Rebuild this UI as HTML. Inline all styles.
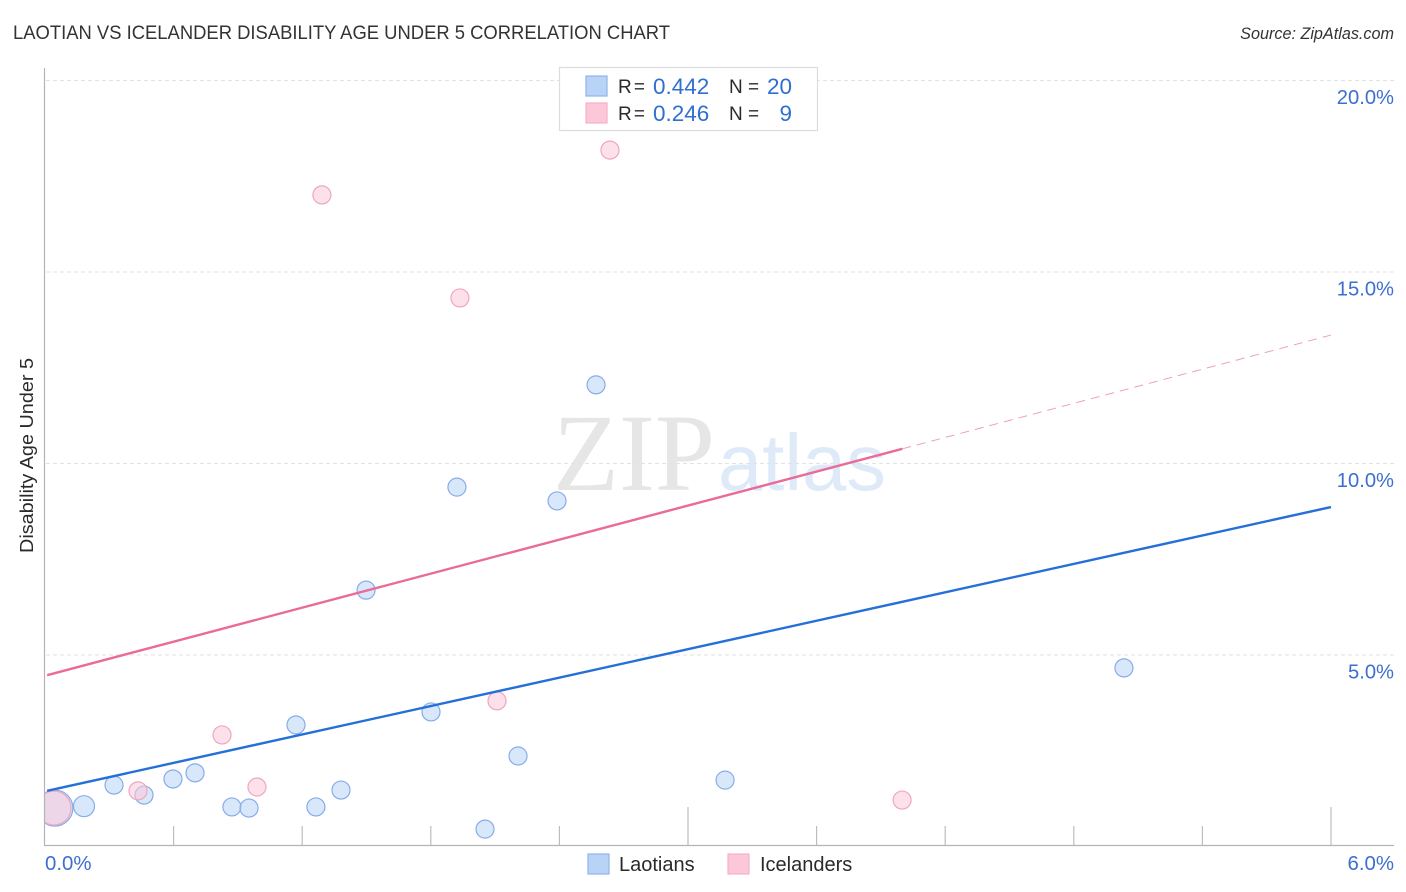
<!DOCTYPE html>
<html>
<head>
<meta charset="utf-8">
<title>Laotian vs Icelander Disability Age Under 5 Correlation Chart</title>
<style>
html,body{margin:0;padding:0;background:#fff;width:1406px;height:892px;overflow:hidden}
svg{display:block}
text{font-family:"Liberation Sans",sans-serif}
</style>
</head>
<body>
<svg id="chart" xmlns="http://www.w3.org/2000/svg" width="1406" height="892" viewBox="0 0 1406 892">
  <rect width="1406" height="892" fill="#fff"/>
  <text x="13" y="39" font-size="19.5" fill="#333" textLength="657" lengthAdjust="spacingAndGlyphs">LAOTIAN VS ICELANDER DISABILITY AGE UNDER 5 CORRELATION CHART</text>
  <text x="1394" y="39" font-size="16.2" font-style="italic" fill="#333" text-anchor="end">Source: ZipAtlas.com</text>
  <text x="553" y="490" font-size="110" fill="#e6e6e6" style="font-family:'Liberation Serif',serif" textLength="162" lengthAdjust="spacingAndGlyphs">ZIP</text>
  <text x="718" y="490" font-size="80" fill="#deeaf8" style="font-family:'Liberation Sans',sans-serif" textLength="168" lengthAdjust="spacingAndGlyphs">atlas</text>
  <g id="grid"></g>
  <g id="xticks"></g>
  <g id="marks"></g>
  <rect x="28" y="780" width="16.5" height="66" fill="#fff"/>
  <line x1="44.5" y1="68" x2="44.5" y2="846" stroke="#b4b4b4" stroke-width="1.2"/>
  <line x1="44" y1="845.5" x2="1394" y2="845.5" stroke="#b4b4b4" stroke-width="1.2"/>
  <g id="ylabels"></g>
  <text x="45" y="870" font-size="20.4" fill="#3d6fd0">0.0%</text>
  <text x="1394" y="870" font-size="20.4" fill="#3d6fd0" text-anchor="end">6.0%</text>
  <text transform="translate(33,553) rotate(-90)" font-size="18.5" fill="#2a2a2a" textLength="195" lengthAdjust="spacingAndGlyphs">Disability Age Under 5</text>

  <g>
    <rect x="559.5" y="67.5" width="258" height="63" fill="#fff" stroke="#dcdcdc" stroke-width="1.2"/>
    <rect x="586" y="76" width="21" height="20" fill="#b9d3f7" stroke="#8fb5ea" stroke-width="1.2"/>
    <rect x="586" y="103" width="21" height="20" fill="#fcc8d9" stroke="#f3b0c8" stroke-width="1.2"/>
    <text x="618" y="93" font-size="19" fill="#2a2a2a" textLength="27" lengthAdjust="spacing">R =</text>
    <text x="653" y="94" font-size="22.5" fill="#2f6fd0">0.442</text>
    <text x="729" y="93" font-size="19" fill="#2a2a2a">N =</text>
    <text x="792" y="94" font-size="22.5" fill="#2f6fd0" text-anchor="end">20</text>
    <text x="618" y="120" font-size="19" fill="#2a2a2a" textLength="27" lengthAdjust="spacing">R =</text>
    <text x="653" y="121" font-size="22.5" fill="#2f6fd0">0.246</text>
    <text x="729" y="120" font-size="19" fill="#2a2a2a">N =</text>
    <text x="792" y="121" font-size="22.5" fill="#2f6fd0" text-anchor="end">9</text>
  </g>

  <g>
    <rect x="588" y="854" width="21" height="20" fill="#b9d3f7" stroke="#8fb5ea" stroke-width="1.2"/>
    <text x="619" y="871" font-size="20" fill="#2a2a2a">Laotians</text>
    <rect x="728" y="854" width="21" height="20" fill="#fcc8d9" stroke="#f3b0c8" stroke-width="1.2"/>
    <text x="760" y="871" font-size="20" fill="#2a2a2a">Icelanders</text>
  </g>
</svg>
<script>
var yTickValues = [5, 10, 15, 20];
var yTickLabels = ['5.0%', '10.0%', '15.0%', '20.0%'];
var xTickValues = [0.6, 1.2, 1.8, 2.4, 3.0, 3.6, 4.2, 4.8, 5.4, 6.0];
var xMajorTicks = [3.0, 6.0];

var laotianX = [0.046, 0.182, 0.322, 0.462, 0.597, 0.70, 0.872, 0.952, 1.171, 1.264, 1.381, 1.498, 1.801, 1.922, 2.053, 2.207, 2.389, 2.571, 3.173, 5.034];
var laotianY = [0.99, 1.04, 1.59, 1.33, 1.75, 1.91, 1.02, 0.99, 3.16, 1.02, 1.46, 6.68, 3.50, 9.37, 0.44, 2.35, 9.01, 12.04, 1.72, 4.65];
var laotianWeight = [18, 10.5, 9, 9, 9, 9, 9, 9, 9, 9, 9, 9, 9, 9, 9, 9, 9, 9, 9, 9];

var icelanderX = [0.042, 0.434, 0.826, 0.989, 1.292, 1.936, 2.109, 2.636, 3.999];
var icelanderY = [0.99, 1.44, 2.90, 1.54, 17.0, 14.31, 3.79, 18.17, 1.20];
var icelanderWeight = [17, 9, 9, 9, 9, 9, 9, 9, 9];

var laotianTrendX = [0.01, 6.0];
var laotianTrendY = [1.44, 8.85];
var icelanderTrendX = [0.01, 4.0];
var icelanderTrendY = [4.46, 10.37];
var icelanderForecastX = [4.0, 6.0];
var icelanderForecastY = [10.37, 13.34];

function xScale(v) { return 45 + v * (1331 - 45) / 6; }
function yScale(v) { return 846 - v * (846 - 80) / 20; }

var NS = 'http://www.w3.org/2000/svg';
function make(tag, parent, attrs) {
  var el = document.createElementNS(NS, tag);
  for (var k in attrs) el.setAttribute(k, attrs[k]);
  document.getElementById(parent).appendChild(el);
  return el;
}

yTickValues.forEach(function (v, i) {
  var line = make('line', 'grid', {x1: 46, x2: 1394, y1: yScale(v) + 0.5, y2: yScale(v) + 0.5, stroke: '#e2e2e2', 'stroke-width': 1, 'stroke-dasharray': '4 3'});
  
  
  var label = make('text', 'ylabels', {x: 1394, y: yScale(v) + 24, 'font-size': 20.2, fill: '#3d6fd0', 'text-anchor': 'end'});
  label.textContent = yTickLabels[i];
  
  
});

xTickValues.forEach(function (v) {
  var major = xMajorTicks.indexOf(v) >= 0;
  var tick = make('line', 'xticks', {x1: xScale(v), x2: xScale(v), y1: major ? 807 : 826, y2: 846, stroke: '#bdbdbd', 'stroke-width': 1.2});
  
  
});

function drawPoints(xs, ys, rs, fill, stroke, name) {
  xs.forEach(function (x, i) {
    var c = make('circle', 'marks', {cx: xScale(x), cy: yScale(ys[i]), r: rs[i], fill: fill, 'fill-opacity': 0.55, stroke: stroke, 'stroke-width': 1.2});
    
    
  });
}

function drawLine(xs, ys, color, width, dash, name) {
  var attrs = {x1: xScale(xs[0]), y1: yScale(ys[0]), x2: xScale(xs[1]), y2: yScale(ys[1]), stroke: color, 'stroke-width': width};
  if (dash) attrs['stroke-dasharray'] = dash;
  var l = make('line', 'marks', attrs);
  
  
}

drawPoints(laotianX, laotianY, laotianWeight, '#b9d3f7', '#85ade8', 'laotian-point');
drawPoints(icelanderX, icelanderY, icelanderWeight, '#fcc8d9', '#efa6c1', 'icelander-point');
drawLine(laotianTrendX, laotianTrendY, '#2470d8', 2.4, null, 'laotian-trend-line');
drawLine(icelanderTrendX, icelanderTrendY, '#e96b98', 2.4, null, 'icelander-trend-line');
drawLine(icelanderForecastX, icelanderForecastY, '#eca0bb', 1, '9 6', 'icelander-trend-forecast');
</script>
</body>
</html>
